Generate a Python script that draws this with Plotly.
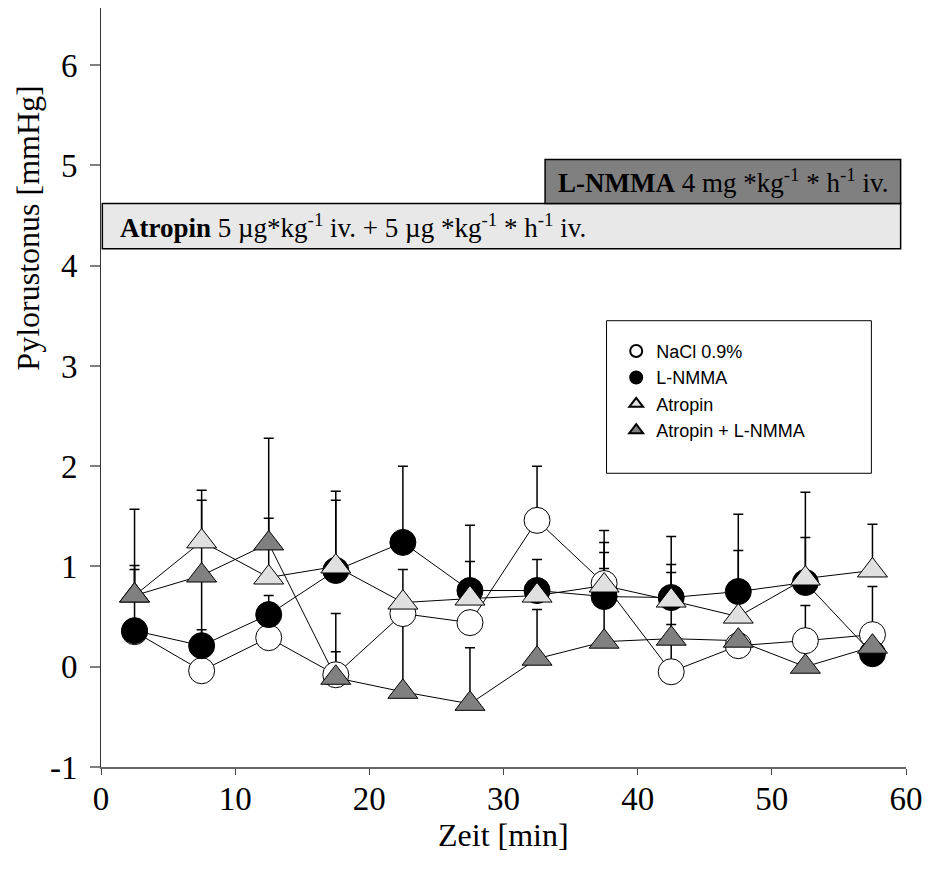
import plotly.graph_objects as go

# Time points (min), midpoints of 5-min intervals
time_min = [2.5, 7.5, 12.5, 17.5, 22.5, 27.5, 32.5, 37.5, 42.5, 47.5, 52.5, 57.5]

# Pyloric tone (mmHg), mean and upper SEM per group
nacl_mean = [0.35, -0.04, 0.29, -0.08, 0.53, 0.44, 1.46, 0.83, -0.05, 0.21, 0.26, 0.32]
nacl_sem = [0.0, 1.70, 0.0, 0.23, 0.0, 0.0, 0.54, 0.15, 0.47, 0.0, 0.35, 0.48]

lnmma_mean = [0.36, 0.21, 0.52, 0.96, 1.24, 0.76, 0.76, 0.70, 0.69, 0.75, 0.84, 0.13]
lnmma_sem = [0.61, 0.16, 0.19, 0.70, 0.76, 0.65, 0.31, 0.44, 0.61, 0.77, 0.45, 0.0]

atropin_mean = [0.71, 1.25, 0.89, 1.00, 0.64, 0.68, 0.71, 0.81, 0.66, 0.50, 0.88, 0.96]
atropin_sem = [0.30, 0.51, 0.59, 0.75, 0.0, 0.37, 0.0, 0.43, 0.36, 0.66, 0.86, 0.46]

combo_mean = [0.71, 0.91, 1.23, -0.11, -0.25, -0.37, 0.08, 0.25, 0.28, 0.26, 0.0, 0.20]
combo_sem = [0.86, 0.0, 1.05, 0.64, 1.22, 0.56, 0.49, 1.11, 0.66, 0.0, 0.0, 0.0]

group_names = ["NaCl 0.9%", "L-NMMA", "Atropin", "Atropin + L-NMMA"]
group_symbols = ["circle", "circle", "triangle-up", "triangle-up"]
group_fills = ["#ffffff", "#000000", "#e0e0e0", "#808080"]

# Axis ticks
x_ticks = [0, 10, 20, 30, 40, 50, 60]
y_ticks = [-1, 0, 1, 2, 3, 4, 5, 6]
y_tick_labels = ["-1", "0", "1", "2", "3", "4", "5", "6"]

# Infusion periods (min) and bar heights (mmHg)
atropin_period = [0.1, 59.6]
lnmma_period = [33.1, 59.6]
atropin_band = [4.17, 4.62]
lnmma_band = [4.62, 5.06]

means = [nacl_mean, lnmma_mean, atropin_mean, combo_mean]
sems = [nacl_sem, lnmma_sem, atropin_sem, combo_sem]

SERIF = "Liberation Serif, Times New Roman, serif"
SANS = "Liberation Sans, Arial, sans-serif"

fig = go.Figure()

# Connecting lines and upward error bars (drawn beneath all markers)
for m, s in zip(means, sems):
    fig.add_trace(go.Scatter(
        x=time_min, y=m, mode="lines",
        line=dict(color="#000000", width=1),
        error_y=dict(type="data", symmetric=False, array=s,
                     arrayminus=[0] * len(s), color="#000000",
                     thickness=1.5, width=5),
        showlegend=False, hoverinfo="skip",
    ))

# Group markers
for name, m, sym, fill in zip(group_names, means, group_symbols, group_fills):
    fig.add_trace(go.Scatter(
        x=time_min, y=m, mode="markers", name=name,
        marker=dict(symbol=sym, size=26, color=fill,
                    line=dict(color="#000000", width=1)),
    ))

shapes = [
    dict(type="rect", xref="x", yref="y",
         x0=atropin_period[0], x1=atropin_period[1],
         y0=atropin_band[0], y1=atropin_band[1],
         fillcolor="#e8e8e8", line=dict(color="#000000", width=1.5), layer="above"),
    dict(type="rect", xref="x", yref="y",
         x0=lnmma_period[0], x1=lnmma_period[1],
         y0=lnmma_band[0], y1=lnmma_band[1],
         fillcolor="#808080", line=dict(color="#000000", width=1.5), layer="above"),
    # legend frame
    dict(type="rect", xref="paper", yref="paper",
         x0=0.628, x1=0.957, y0=0.387, y1=0.588,
         fillcolor="rgba(0,0,0,0)", line=dict(color="#000000", width=1)),
]

annotations = [
    dict(xref="x", yref="y", x=atropin_period[0] + 1.2,
         y=sum(atropin_band) / 2, xanchor="left", yanchor="middle",
         showarrow=False,
         text="<b>Atropin</b> 5 µg*kg<sup>-1</sup> iv. + 5 µg *kg<sup>-1</sup> * h<sup>-1</sup> iv.",
         font=dict(family=SERIF, size=27, color="#000000")),
    dict(xref="x", yref="y", x=sum(lnmma_period) / 2,
         y=sum(lnmma_band) / 2, xanchor="center", yanchor="middle",
         showarrow=False,
         text="<b>L-NMMA</b> 4 mg *kg<sup>-1</sup> * h<sup>-1</sup> iv.",
         font=dict(family=SERIF, size=27, color="#000000")),
    dict(xref="paper", yref="paper", x=-0.09, y=0.71,
         xanchor="center", yanchor="middle", textangle=-90, showarrow=False,
         text="Pylorustonus [mmHg]",
         font=dict(family=SERIF, size=32, color="#000000")),
    dict(xref="paper", yref="paper", x=0.5, y=-0.09,
         xanchor="center", yanchor="middle", showarrow=False,
         text="Zeit [min]",
         font=dict(family=SERIF, size=32, color="#000000")),
]

fig.update_layout(
    width=931, height=876,
    margin=dict(l=101, r=19, t=8, b=109),
    paper_bgcolor="#ffffff", plot_bgcolor="#ffffff",
    shapes=shapes, annotations=annotations,
    legend=dict(x=0.64, y=0.572, xanchor="left", yanchor="top",
                bgcolor="rgba(0,0,0,0)", borderwidth=0,
                font=dict(family=SANS, size=18, color="#000000"),
                itemsizing="constant", tracegroupgap=0),
    xaxis=dict(range=[0, 60], tickvals=x_ticks,
               ticks="outside", ticklen=6, tickcolor="#444444", tickwidth=1,
               ticklabelstandoff=-5,
               showline=True, linecolor="#666666", linewidth=2,
               showgrid=False, zeroline=False,
               tickfont=dict(family=SERIF, size=33, color="#000000")),
    yaxis=dict(range=[-1, 6.57], tickvals=y_ticks, ticktext=y_tick_labels,
               ticks="outside", ticklen=10, tickcolor="#808080", tickwidth=2,
               ticklabelstandoff=6,
               showline=True, linecolor="#333333", linewidth=1,
               showgrid=False, zeroline=False,
               tickfont=dict(family=SERIF, size=33, color="#000000")),
)

fig.write_html("out.html")
